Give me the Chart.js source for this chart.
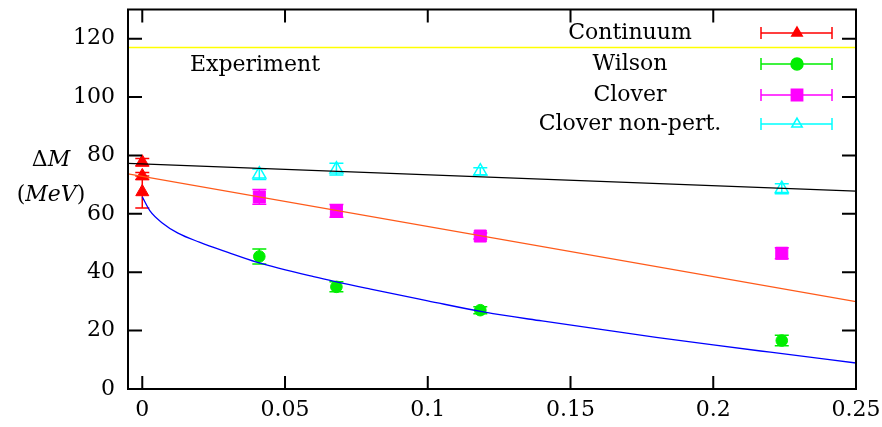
<!DOCTYPE html>
<html>
<head>
<meta charset="utf-8">
<script src="https://cdn.jsdelivr.net/npm/chart.js@4.4.1/dist/chart.umd.min.js"></script>
<style>
  html, body { margin: 0; padding: 0; background: #fff; }
  canvas { display: block; }
</style>
</head>
<body>
<canvas id="myChart" width="882" height="427"></canvas>
<script>
// Data
const xTicks = [0, 0.05, 0.1, 0.15, 0.2, 0.25];
const xTickLabels = ["0", "0.05", "0.1", "0.15", "0.2", "0.25"];
const yTicks = [0, 20, 40, 60, 80, 100, 120];

// experiment (horizontal line)
const expX = [-0.005, 0.25];
const expY = [117, 117];

// fit lines
const blackX = [-0.005, 0.25];
const blackY = [77.3, 67.8];
const orangeX = [-0.005, 0.25];
const orangeY = [73.7, 29.9];
const blueX = [0, 0.0027, 0.007, 0.0125, 0.02, 0.03, 0.04, 0.06, 0.08, 0.1, 0.12, 0.14, 0.16, 0.18, 0.2, 0.22, 0.25];
const blueY = [65.8, 61.0, 56.9, 53.4, 50.3, 46.8, 43.5, 38.5, 34.2, 30.2, 26.3, 23.3, 20.5, 17.7, 15.1, 12.6, 8.9];

// continuum points
const contX = [0, 0, 0];
const contY = [77.7, 73.0, 67.5];
const contErr = [1.3, 1.2, 5.5];

// lattice points
const latX = [0.041, 0.068, 0.1184, 0.224];
const wilsonY = [45.4, 35.0, 27.0, 16.6];
const wilsonErr = [2.6, 1.7, 1.2, 1.8];
const cloverY = [65.8, 61.0, 52.4, 46.5];
const cloverErr = [2.5, 2.2, 1.0, 1.9];
const cloverNpY = [73.6, 75.3, 74.6, 68.6];
const cloverNpErr = [1.8, 2.0, 1.2, 1.7];

const FONT = "'DejaVu Serif', 'Liberation Serif', serif";

function pts(xs, ys) {
  return xs.map((x, k) => ({ x: x, y: ys[k] }));
}

function lineSet(xs, ys, color, width) {
  return {
    type: "line",
    data: pts(xs, ys),
    borderColor: color,
    borderWidth: width,
    pointRadius: 0,
    fill: false,
    cubicInterpolationMode: "monotone",
  };
}

function pointSet(label, xs, ys, errs, color, style, radius, filled) {
  return {
    type: "scatter",
    label: label,
    data: pts(xs, ys),
    errors: errs,
    borderColor: color,
    backgroundColor: filled ? color : "rgba(0,0,0,0)",
    pointStyle: style,
    pointRadius: radius,
    pointBorderWidth: filled ? 1 : 1.5,
    showLine: false,
  };
}

const series = [
  pointSet("Continuum", contX, contY, contErr, "#ff0000", "triangle", 7.5, true),
  pointSet("Wilson", latX, wilsonY, wilsonErr, "#00ee00", "circle", 5.8, true),
  pointSet("Clover", latX, cloverY, cloverErr, "#ff00ff", "rect", 8.5, true),
  pointSet("Clover non-pert.", latX, cloverNpY, cloverNpErr, "#00ffff", "triangle", 7.5, false),
];

// error bars under the markers
const errorBars = {
  id: "errorBars",
  beforeDatasetsDraw(chart) {
    const ctx = chart.ctx;
    const xs = chart.scales.x;
    const ys = chart.scales.y;
    ctx.save();
    chart.data.datasets.forEach((ds) => {
      if (!ds.errors) return;
      ctx.strokeStyle = ds.borderColor;
      ctx.lineWidth = 1.5;
      ds.data.forEach((p, k) => {
        const px = xs.getPixelForValue(p.x);
        const lo = ys.getPixelForValue(p.y - ds.errors[k]);
        const hi = ys.getPixelForValue(p.y + ds.errors[k]);
        ctx.beginPath();
        ctx.moveTo(px, lo);
        ctx.lineTo(px, hi);
        ctx.moveTo(px - 7, lo);
        ctx.lineTo(px + 7, lo);
        ctx.moveTo(px - 7, hi);
        ctx.lineTo(px + 7, hi);
        ctx.stroke();
      });
    });
    ctx.restore();
  },
};

// frame, inward ticks, labels and key
const decorations = {
  id: "decorations",
  afterDraw(chart) {
    const ctx = chart.ctx;
    const a = chart.chartArea;
    const xs = chart.scales.x;
    const ys = chart.scales.y;
    ctx.save();
    ctx.strokeStyle = "#000";
    ctx.lineWidth = 2;
    ctx.strokeRect(a.left, a.top, a.right - a.left, a.bottom - a.top);
    ctx.beginPath();
    xTicks.forEach((v) => {
      const px = xs.getPixelForValue(v);
      ctx.moveTo(px, a.bottom);
      ctx.lineTo(px, a.bottom - 13);
      ctx.moveTo(px, a.top);
      ctx.lineTo(px, a.top + 13);
    });
    yTicks.forEach((v) => {
      const py = ys.getPixelForValue(v);
      ctx.moveTo(a.left, py);
      ctx.lineTo(a.left + 14, py);
      ctx.moveTo(a.right, py);
      ctx.lineTo(a.right - 14, py);
    });
    ctx.stroke();

    ctx.fillStyle = "#000";
    ctx.textBaseline = "middle";
    ctx.font = "22px " + FONT;
    ctx.textAlign = "left";
    ctx.fillText("Experiment", 190, 65);

    // axis title: ΔM (MeV)
    const upright = "22px " + FONT;
    const italic = "italic 22px " + FONT;
    function mixed(parts, cx, cy) {
      let total = 0;
      parts.forEach((p) => {
        ctx.font = p[1] ? italic : upright;
        total += ctx.measureText(p[0]).width;
      });
      let x = cx - total / 2;
      parts.forEach((p) => {
        ctx.font = p[1] ? italic : upright;
        ctx.fillText(p[0], x, cy);
        x += ctx.measureText(p[0]).width;
      });
    }
    mixed([["\u0394", false], ["M", true]], 51, 160);
    mixed([["(", false], ["MeV", true], [")", false]], 51, 195);

    // key
    ctx.font = upright;
    ctx.textAlign = "center";
    const rowY = [33, 64, 95, 124];
    series.forEach((ds, k) => {
      const y = rowY[k];
      ctx.fillStyle = "#000";
      ctx.fillText(ds.label, 630, y);
      ctx.strokeStyle = ds.borderColor;
      ctx.lineWidth = 1.5;
      ctx.beginPath();
      ctx.moveTo(761, y);
      ctx.lineTo(832, y);
      ctx.moveTo(761, y - 6);
      ctx.lineTo(761, y + 6);
      ctx.moveTo(832, y - 6);
      ctx.lineTo(832, y + 6);
      ctx.stroke();
      ctx.fillStyle = ds.backgroundColor;
      Chart.helpers.drawPoint(ctx, {
        pointStyle: ds.pointStyle,
        radius: ds.pointStyle === "rect" ? 8 : 6,
        rotation: 0,
        borderWidth: ds.pointBorderWidth,
      }, 797, y);
    });
    ctx.restore();
  },
};

const ctx = document.getElementById("myChart");

new Chart(ctx, {
  data: {
    datasets: [
      lineSet(expX, expY, "#ffff00", 1.6),
      lineSet(blackX, blackY, "#000000", 1.3),
      lineSet(orangeX, orangeY, "#ff5a1a", 1.3),
      lineSet(blueX, blueY, "#0000ff", 1.3),
    ].concat(series),
  },
  options: {
    responsive: false,
    animation: false,
    layout: {
      padding: { top: 5, right: 26, left: 0, bottom: 0 },
    },
    plugins: {
      legend: { display: false },
      tooltip: { enabled: false },
    },
    scales: {
      x: {
        type: "linear",
        min: -0.005,
        max: 0.25,
        grid: { display: false, drawTicks: false },
        border: { display: false },
        afterBuildTicks: (scale) => {
          scale.ticks = xTicks.map((v) => ({ value: v }));
        },
        afterFit: (scale) => {
          scale.height = 38;
          scale.paddingLeft = 0;
          scale.paddingRight = 0;
        },
        ticks: {
          color: "#000",
          font: { family: FONT, size: 22 },
          padding: 8,
          maxRotation: 0,
          callback: (value) => xTickLabels[xTicks.indexOf(value)],
        },
      },
      y: {
        type: "linear",
        min: 0,
        max: 130,
        grid: { display: false, drawTicks: false },
        border: { display: false },
        afterBuildTicks: (scale) => {
          scale.ticks = yTicks.map((v) => ({ value: v }));
        },
        afterFit: (scale) => {
          scale.width = 128;
          scale.paddingTop = 0;
          scale.paddingBottom = 0;
        },
        ticks: {
          color: "#000",
          font: { family: FONT, size: 22 },
          padding: 13,
        },
      },
    },
  },
  plugins: [errorBars, decorations],
});
</script>
</body>
</html>
